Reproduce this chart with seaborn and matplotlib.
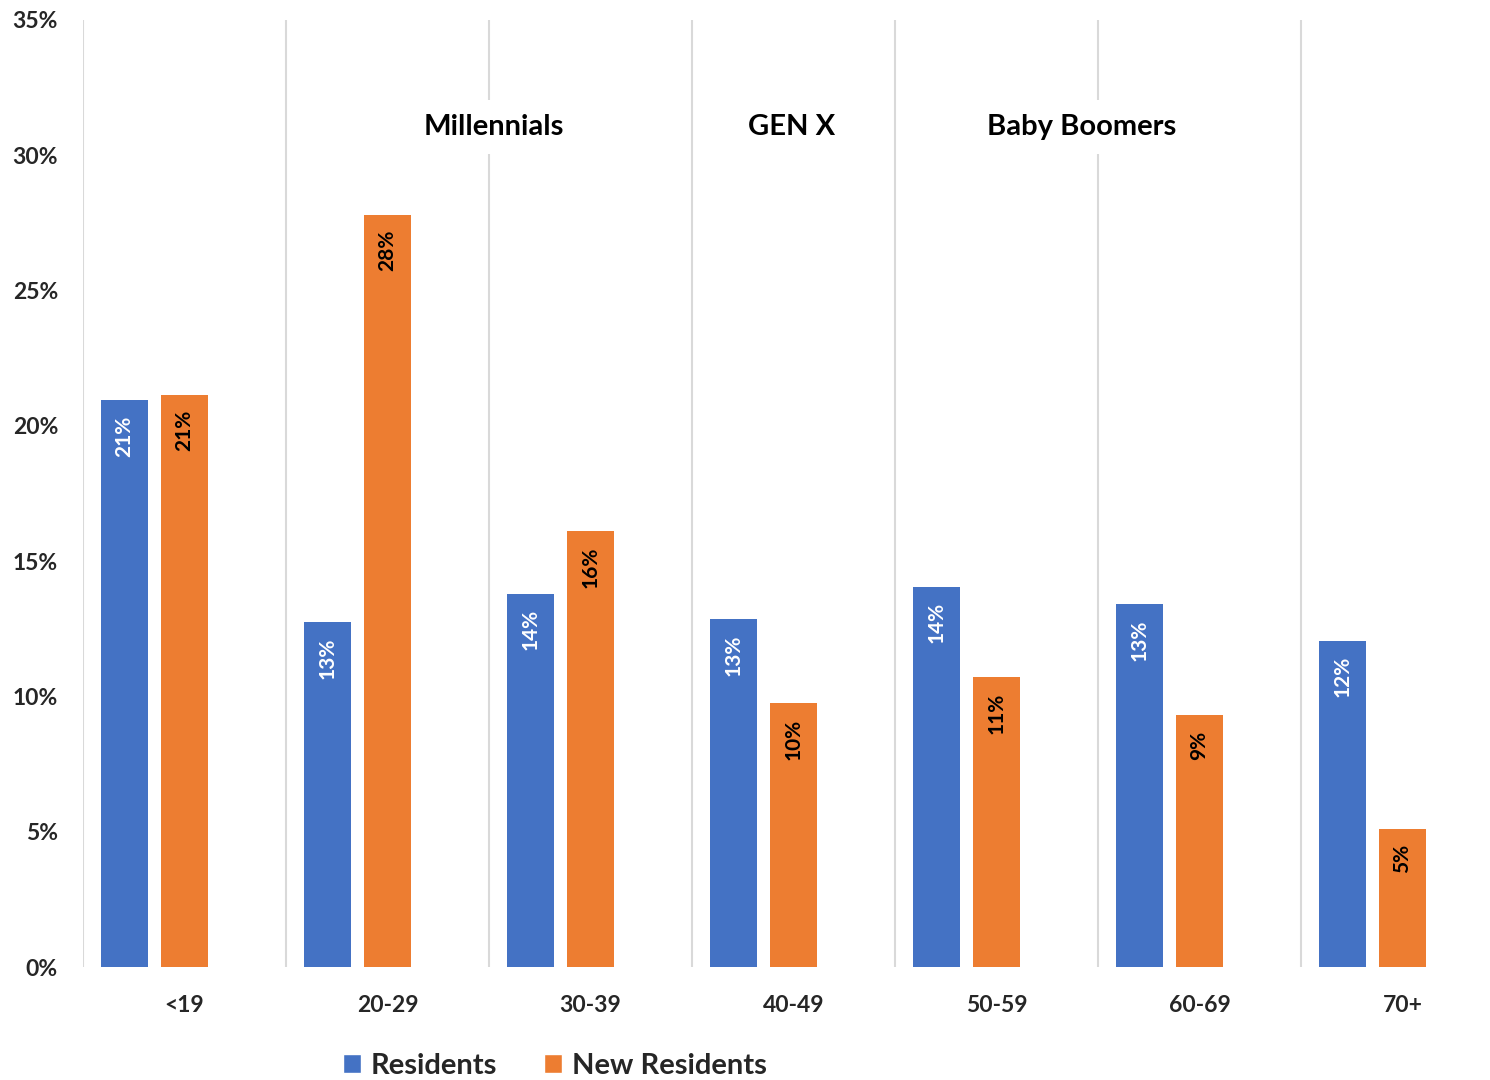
import pandas as pd
import matplotlib.pyplot as plt
import seaborn as sns
from matplotlib.patches import Patch

# Chart data (percent)
age_groups = ["<19", "20-29", "30-39", "40-49", "50-59", "60-69", "70+"]
residents = [20.95, 12.75, 13.8, 12.85, 14.05, 13.4, 12.05]
new_residents = [21.15, 27.8, 16.1, 9.75, 10.7, 9.3, 5.1]
y_ticks = [0, 5, 10, 15, 20, 25, 30, 35]
generations = ["Millennials", "GEN X", "Baby Boomers"]
generation_x = [1.525, 2.99, 4.42]
generation_y = 30.75

blue = "#4472C4"
orange = "#ED7D31"

# Long table; a blank third series keeps the Excel-style offset of the pairs
df = pd.DataFrame({
    "age": age_groups * 3,
    "share": residents + new_residents + [0] * len(age_groups),
    "series": ["Residents"] * 7 + ["New Residents"] * 7 + ["blank"] * 7,
})

sns.set_theme(style="white")
plt.rcParams["font.family"] = ["Lato", "DejaVu Sans"]
plt.rcParams["font.weight"] = "bold"

fig = plt.figure(figsize=(14.9, 10.8), dpi=100)
ax = fig.add_axes([83 / 1490, 1 - 967 / 1080, 1 - 83 / 1490, (967 - 20) / 1080])

sns.barplot(data=df, x="age", y="share", hue="series",
            hue_order=["Residents", "New Residents", "blank"],
            palette={"Residents": blue, "New Residents": orange, "blank": "white"},
            width=0.887, gap=0.217, errorbar=None, legend=False,
            linewidth=0, saturation=1, ax=ax)

ax.set_ylim(0, 35)
ax.set_xlim(-0.5, 6.431)
ax.set_yticks(y_ticks, [f"{t}%" for t in y_ticks], fontsize=16.5, fontweight="bold")
ax.set_xticks(range(len(age_groups)), age_groups, fontsize=16.5, fontweight="bold")
ax.set_xlabel("")
ax.set_ylabel("")
ax.tick_params(axis="y", length=0, pad=18)
ax.tick_params(axis="x", length=0, pad=20)
for s in ax.spines.values():
    s.set_visible(False)

# vertical separators between age groups
for b in range(len(age_groups)):
    ax.axvline(b - 0.5, color="#D9D9D9", lw=1.5, zorder=0)

# value labels inside bar tops
for cont, col in zip(ax.containers[:2], ["white", "black"]):
    for bar in cont:
        h = bar.get_height()
        ax.annotate(f"{h:.0f}%", (bar.get_x() + bar.get_width() / 2, h),
                    xytext=(0, -11), textcoords="offset points",
                    rotation=90, ha="center", va="top",
                    fontsize=15, fontweight="bold", color=col)

# generation labels
for name, gx in zip(generations, generation_x):
    ax.text(gx, generation_y, name, ha="center", va="baseline",
            fontsize=21, fontweight="bold", color="black", zorder=5,
            bbox=dict(facecolor="white", edgecolor="none", pad=10))

handles = [Patch(facecolor=blue, label="Residents"),
           Patch(facecolor=orange, label="New Residents")]
fig.legend(handles=handles, loc="center", bbox_to_anchor=(555 / 1490, 1 - 1066 / 1080),
           ncol=2, frameon=False, prop={"size": 21, "weight": "bold"},
           handlelength=0.6, handleheight=0.6, handletextpad=0.35,
           columnspacing=1.6, borderpad=0)

fig.savefig("out.png", dpi=100)
